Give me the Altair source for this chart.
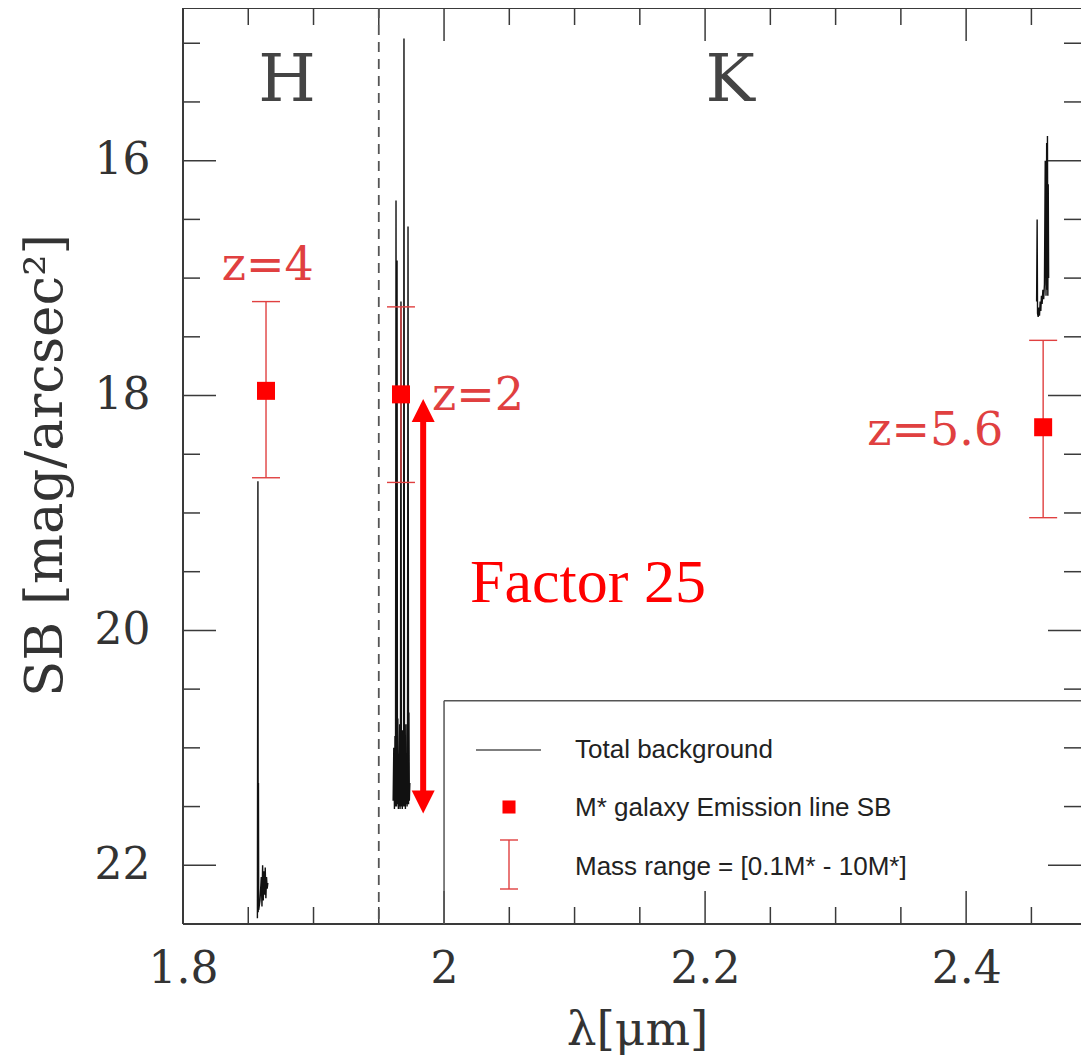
import altair as alt
import pandas as pd

# ---------------- data ----------------
# total background (sky) spectrum, three wavelength windows
bg_h_x = [1.8570, 1.8574, 1.8576, 1.8578, 1.8580, 1.8590, 1.8600, 1.8605, 1.8610, 1.8615,
          1.8620, 1.8625, 1.8630, 1.8635, 1.8640, 1.8645, 1.8650]
bg_h_y = [22.45, 18.73, 22.40, 21.30, 22.38, 22.30, 22.10, 22.35, 22.00, 22.30,
          22.05, 22.25, 22.02, 22.28, 22.10, 22.20, 22.15]

bg_k1_x = [1.9610, 1.9615, 1.9620, 1.9624, 1.9628, 1.9632, 1.9636, 1.9640, 1.9643, 1.9646,
           1.9650, 1.9653, 1.9656, 1.9660, 1.9663, 1.9666, 1.9670, 1.9673, 1.9676, 1.9680,
           1.9683, 1.9686, 1.9690, 1.9693, 1.9697, 1.9700, 1.9704, 1.9708, 1.9711, 1.9714,
           1.9717, 1.9720, 1.9724, 1.9728, 1.9731, 1.9734, 1.9738]
bg_k1_y = [21.45, 21.00, 21.52, 20.90, 21.50, 16.34, 21.50, 16.85, 21.48, 20.75,
           21.52, 21.05, 21.50, 20.80, 21.52, 20.95, 17.20, 21.50, 21.10, 21.52,
           20.85, 21.50, 20.90, 14.96, 21.50, 21.00, 21.52, 20.80, 21.48, 21.20,
           21.50, 21.05, 16.56, 21.48, 20.70, 21.45, 21.30]

bg_k2_x = [2.4540, 2.4544, 2.4547, 2.4552, 2.4557, 2.4562, 2.4567, 2.4572, 2.4577, 2.4582,
           2.4588, 2.4594, 2.4600, 2.4606, 2.4612, 2.4617, 2.4620, 2.4623, 2.4626, 2.4629,
           2.4632]
bg_k2_y = [17.20, 16.50, 17.30, 17.33, 17.25, 17.32, 17.20, 17.28, 17.15, 17.22,
           17.10, 17.18, 17.05, 16.00, 17.15, 15.85, 17.10, 15.79, 17.15, 16.20,
           17.00]

# M* galaxy emission line SB and mass range
gal_label = ["z=4", "z=2", "z=5.6"]
gal_x = [1.8636, 1.9670, 2.4590]
gal_sb = [17.96, 17.99, 18.27]
gal_lo = [17.20, 17.245, 17.53]
gal_hi = [18.70, 18.74, 19.04]

z_label_x = [1.8650, 1.9908, 2.4284]
z_label_y = [16.90, 18.00, 18.30]
z_label_align = ["center", "left", "right"]

band_names = ["H", "K"]
band_x = [1.8797, 2.2192]
band_y = [15.32, 15.32]
band_edge = [1.95]

arrow_x = [1.984]
arrow_top = [18.03]
arrow_bottom = [21.56]
factor_text = ["Factor 25"]
factor_x = [2.0199]
factor_y = [19.76]

legend_box_x = [2.0]
legend_box_y = [20.6]
legend_labels = ["Total background", "M* galaxy Emission line SB", "Mass range = [0.1M* - 10M*]"]

x_major = [1.8, 2.0, 2.2, 2.4]
x_minor = [1.85, 1.9, 1.95, 2.05, 2.1, 2.15, 2.25, 2.3, 2.35, 2.45]
y_major = [16, 18, 20, 22]
y_minor = [15, 15.5, 16.5, 17, 17.5, 18.5, 19, 19.5, 20.5, 21, 21.5]

# ---------------- styling ----------------
W, H = 898, 916
XS = alt.Scale(domain=[1.8, 2.488], nice=False, zero=False)
YS = alt.Scale(domain=[14.7, 22.5], reverse=True, nice=False, zero=False)
SERIF = "DejaVu Serif"
SANS = "Liberation Sans"
AXC = "#333333"
FRAME = "#3a3a3a"
ERR = "#e04040"
RED = "#ff0000"
MAJ, MIN = 33, 17

XAX = alt.Axis(
    values=x_major, format="~g", ticks=False, domain=False, grid=False,
    labelFont=SERIF, labelFontSize=44, labelColor=AXC, labelPadding=23,
    labelBaseline="top", labelFlush=False, labelOverlap=False,
    title="λ[μm]", titleFont=SERIF, titleFontSize=47, titleFontWeight="normal",
    titleColor=AXC, titleX=454, titleY=120, titleBaseline="alphabetic", titleAlign="center")
YAX = alt.Axis(
    values=y_major, ticks=False, domain=False, grid=False,
    labelFont=SERIF, labelFontSize=44, labelColor=AXC, labelPadding=33,
    labelOverlap=False,
    title="SB [mag/arcsec²]", titleFont=SERIF, titleFontSize=53, titleFontWeight="normal",
    titleColor=AXC, titleX=-138, titleY=457, titleAngle=270,
    titleBaseline="middle", titleAlign="center")

spec_rows = []
for seg, xs_, ys_ in [("H", bg_h_x, bg_h_y), ("K1", bg_k1_x, bg_k1_y), ("K2", bg_k2_x, bg_k2_y)]:
    for i, (a, b) in enumerate(zip(xs_, ys_)):
        spec_rows.append({"seg": seg, "ord": i, "x": a, "y": b})
spec_df = pd.DataFrame(spec_rows)

gal_df = pd.DataFrame({"label": gal_label, "x": gal_x, "sb": gal_sb, "lo": gal_lo, "hi": gal_hi})
cap_df = pd.DataFrame({"x": gal_x + gal_x, "y": gal_lo + gal_hi})
dummy = pd.DataFrame({"a": [0]})


def xq(field="x"):
    return alt.X(f"{field}:Q", scale=XS, axis=XAX)


def yq(field="y"):
    return alt.Y(f"{field}:Q", scale=YS, axis=YAX)


layers = []

# spectrum (total background)
layers.append(
    alt.Chart(spec_df).mark_line(color="#111111", strokeWidth=1.4).encode(
        x=xq(), y=yq(), detail="seg:N", order="ord:Q"))

# frame (left, bottom, top)
layers.append(alt.Chart(dummy).mark_rule(color=FRAME, strokeWidth=2).encode(
    x=alt.value(0), y=alt.value(0), y2=alt.value(H)))
layers.append(alt.Chart(dummy).mark_rule(color=FRAME, strokeWidth=2).encode(
    x=alt.value(0), x2=alt.value(W), y=alt.value(H)))
layers.append(alt.Chart(dummy).mark_rule(color=FRAME, strokeWidth=2).encode(
    x=alt.value(0), x2=alt.value(W), y=alt.value(0)))

# inward ticks
for vals, ln in [(x_major, MAJ), (x_minor, MIN)]:
    d = pd.DataFrame({"v": vals})
    layers.append(alt.Chart(d).mark_rule(color=FRAME, strokeWidth=1.5).encode(
        x=xq("v"), y=alt.value(H), y2=alt.value(H - ln)))
    layers.append(alt.Chart(d).mark_rule(color=FRAME, strokeWidth=1.5).encode(
        x=xq("v"), y=alt.value(0), y2=alt.value(ln)))
for vals, ln in [(y_major, MAJ), (y_minor, MIN)]:
    d = pd.DataFrame({"v": vals})
    layers.append(alt.Chart(d).mark_rule(color=FRAME, strokeWidth=1.5).encode(
        y=yq("v"), x=alt.value(0), x2=alt.value(ln)))
    layers.append(alt.Chart(d).mark_rule(color=FRAME, strokeWidth=1.5).encode(
        y=yq("v"), x=alt.value(W), x2=alt.value(W - ln)))

# H / K band separator
layers.append(alt.Chart(pd.DataFrame({"x": band_edge})).mark_rule(
    color="#555555", strokeWidth=1.8, strokeDash=[10, 7]).encode(
    x=xq(), y=alt.value(0), y2=alt.value(H)))

# band names
layers.append(alt.Chart(pd.DataFrame({"t": band_names, "x": band_x, "y": band_y})).mark_text(
    font=SERIF, fontSize=66, color="#444444", align="center", baseline="middle").encode(
    x=xq(), y=yq(), text="t:N"))

# error bars + caps + squares
layers.append(alt.Chart(gal_df).mark_rule(color=ERR, strokeWidth=1.4).encode(
    x=xq(), y=yq("lo"), y2="hi:Q"))
layers.append(alt.Chart(cap_df).mark_tick(color=ERR, orient="horizontal", size=28,
                                          thickness=1.4, opacity=1).encode(x=xq(), y=yq()))
layers.append(alt.Chart(gal_df).mark_square(color=RED, size=324, opacity=1).encode(
    x=xq(), y=yq("sb")))

# z labels
for t, lx, ly, al in zip(gal_label, z_label_x, z_label_y, z_label_align):
    layers.append(alt.Chart(pd.DataFrame({"t": [t], "x": [lx], "y": [ly]})).mark_text(
        font=SERIF, fontSize=46, color=ERR, align=al, baseline="middle").encode(
        x=xq(), y=yq(), text="t:N"))

# double arrow "Factor 25"
arr_df = pd.DataFrame({"x": arrow_x, "top": arrow_top, "bot": arrow_bottom})
layers.append(alt.Chart(arr_df).mark_rule(color=RED, strokeWidth=6, yOffset=12, y2Offset=-12).encode(
    x=xq(), y=yq("top"), y2="bot:Q"))
layers.append(alt.Chart(arr_df).mark_point(shape="M0,0L1,2L-1,2Z", filled=True, size=529,
                                           color=RED, opacity=1, strokeWidth=0).encode(
    x=xq(), y=yq("top")))
layers.append(alt.Chart(arr_df).mark_point(shape="M0,0L1,-2L-1,-2Z", filled=True, size=529,
                                           color=RED, opacity=1, strokeWidth=0).encode(
    x=xq(), y=yq("bot")))
layers.append(alt.Chart(pd.DataFrame({"t": factor_text, "x": factor_x, "y": factor_y})).mark_text(
    font="Liberation Serif", fontSize=62, color=RED, align="left", baseline="alphabetic").encode(
    x=xq(), y=yq(), text="t:N"))

# legend box
box_df = pd.DataFrame({"x": legend_box_x, "y": legend_box_y})
layers.append(alt.Chart(box_df).mark_rule(color="#555555", strokeWidth=1.5).encode(
    x=xq(), y=yq(), y2=alt.value(H)))
layers.append(alt.Chart(box_df).mark_rule(color="#555555", strokeWidth=1.5).encode(
    x=xq(), x2=alt.value(W), y=yq()))

# legend entries
layers.append(alt.Chart(dummy).mark_rule(color="#555555", strokeWidth=1.5).encode(
    x=alt.value(293), x2=alt.value(358), y=alt.value(742)))
layers.append(alt.Chart(dummy).mark_square(color=RED, size=170, opacity=1).encode(
    x=alt.value(326), y=alt.value(799)))
layers.append(alt.Chart(dummy).mark_rule(color=ERR, strokeWidth=1.4).encode(
    x=alt.value(326), y=alt.value(832), y2=alt.value(881)))
for yy in [832, 881]:
    layers.append(alt.Chart(dummy).mark_rule(color=ERR, strokeWidth=1.4).encode(
        x=alt.value(317), x2=alt.value(335), y=alt.value(yy)))
for t, yy in zip(legend_labels, [742, 800, 859]):
    layers.append(alt.Chart(pd.DataFrame({"t": [t]})).mark_text(
        font=SANS, fontSize=26, color="#222222", align="left", baseline="middle").encode(
        x=alt.value(392), y=alt.value(yy), text="t:N"))

chart = alt.layer(*layers).properties(
    width=W, height=H,
    autosize=alt.AutoSizeParams(type="none"),
    padding={"left": 175, "top": 0, "right": 0, "bottom": 132},
).configure_view(stroke=None)

chart.save("out.html", embed_options={"renderer": "svg", "actions": False})
